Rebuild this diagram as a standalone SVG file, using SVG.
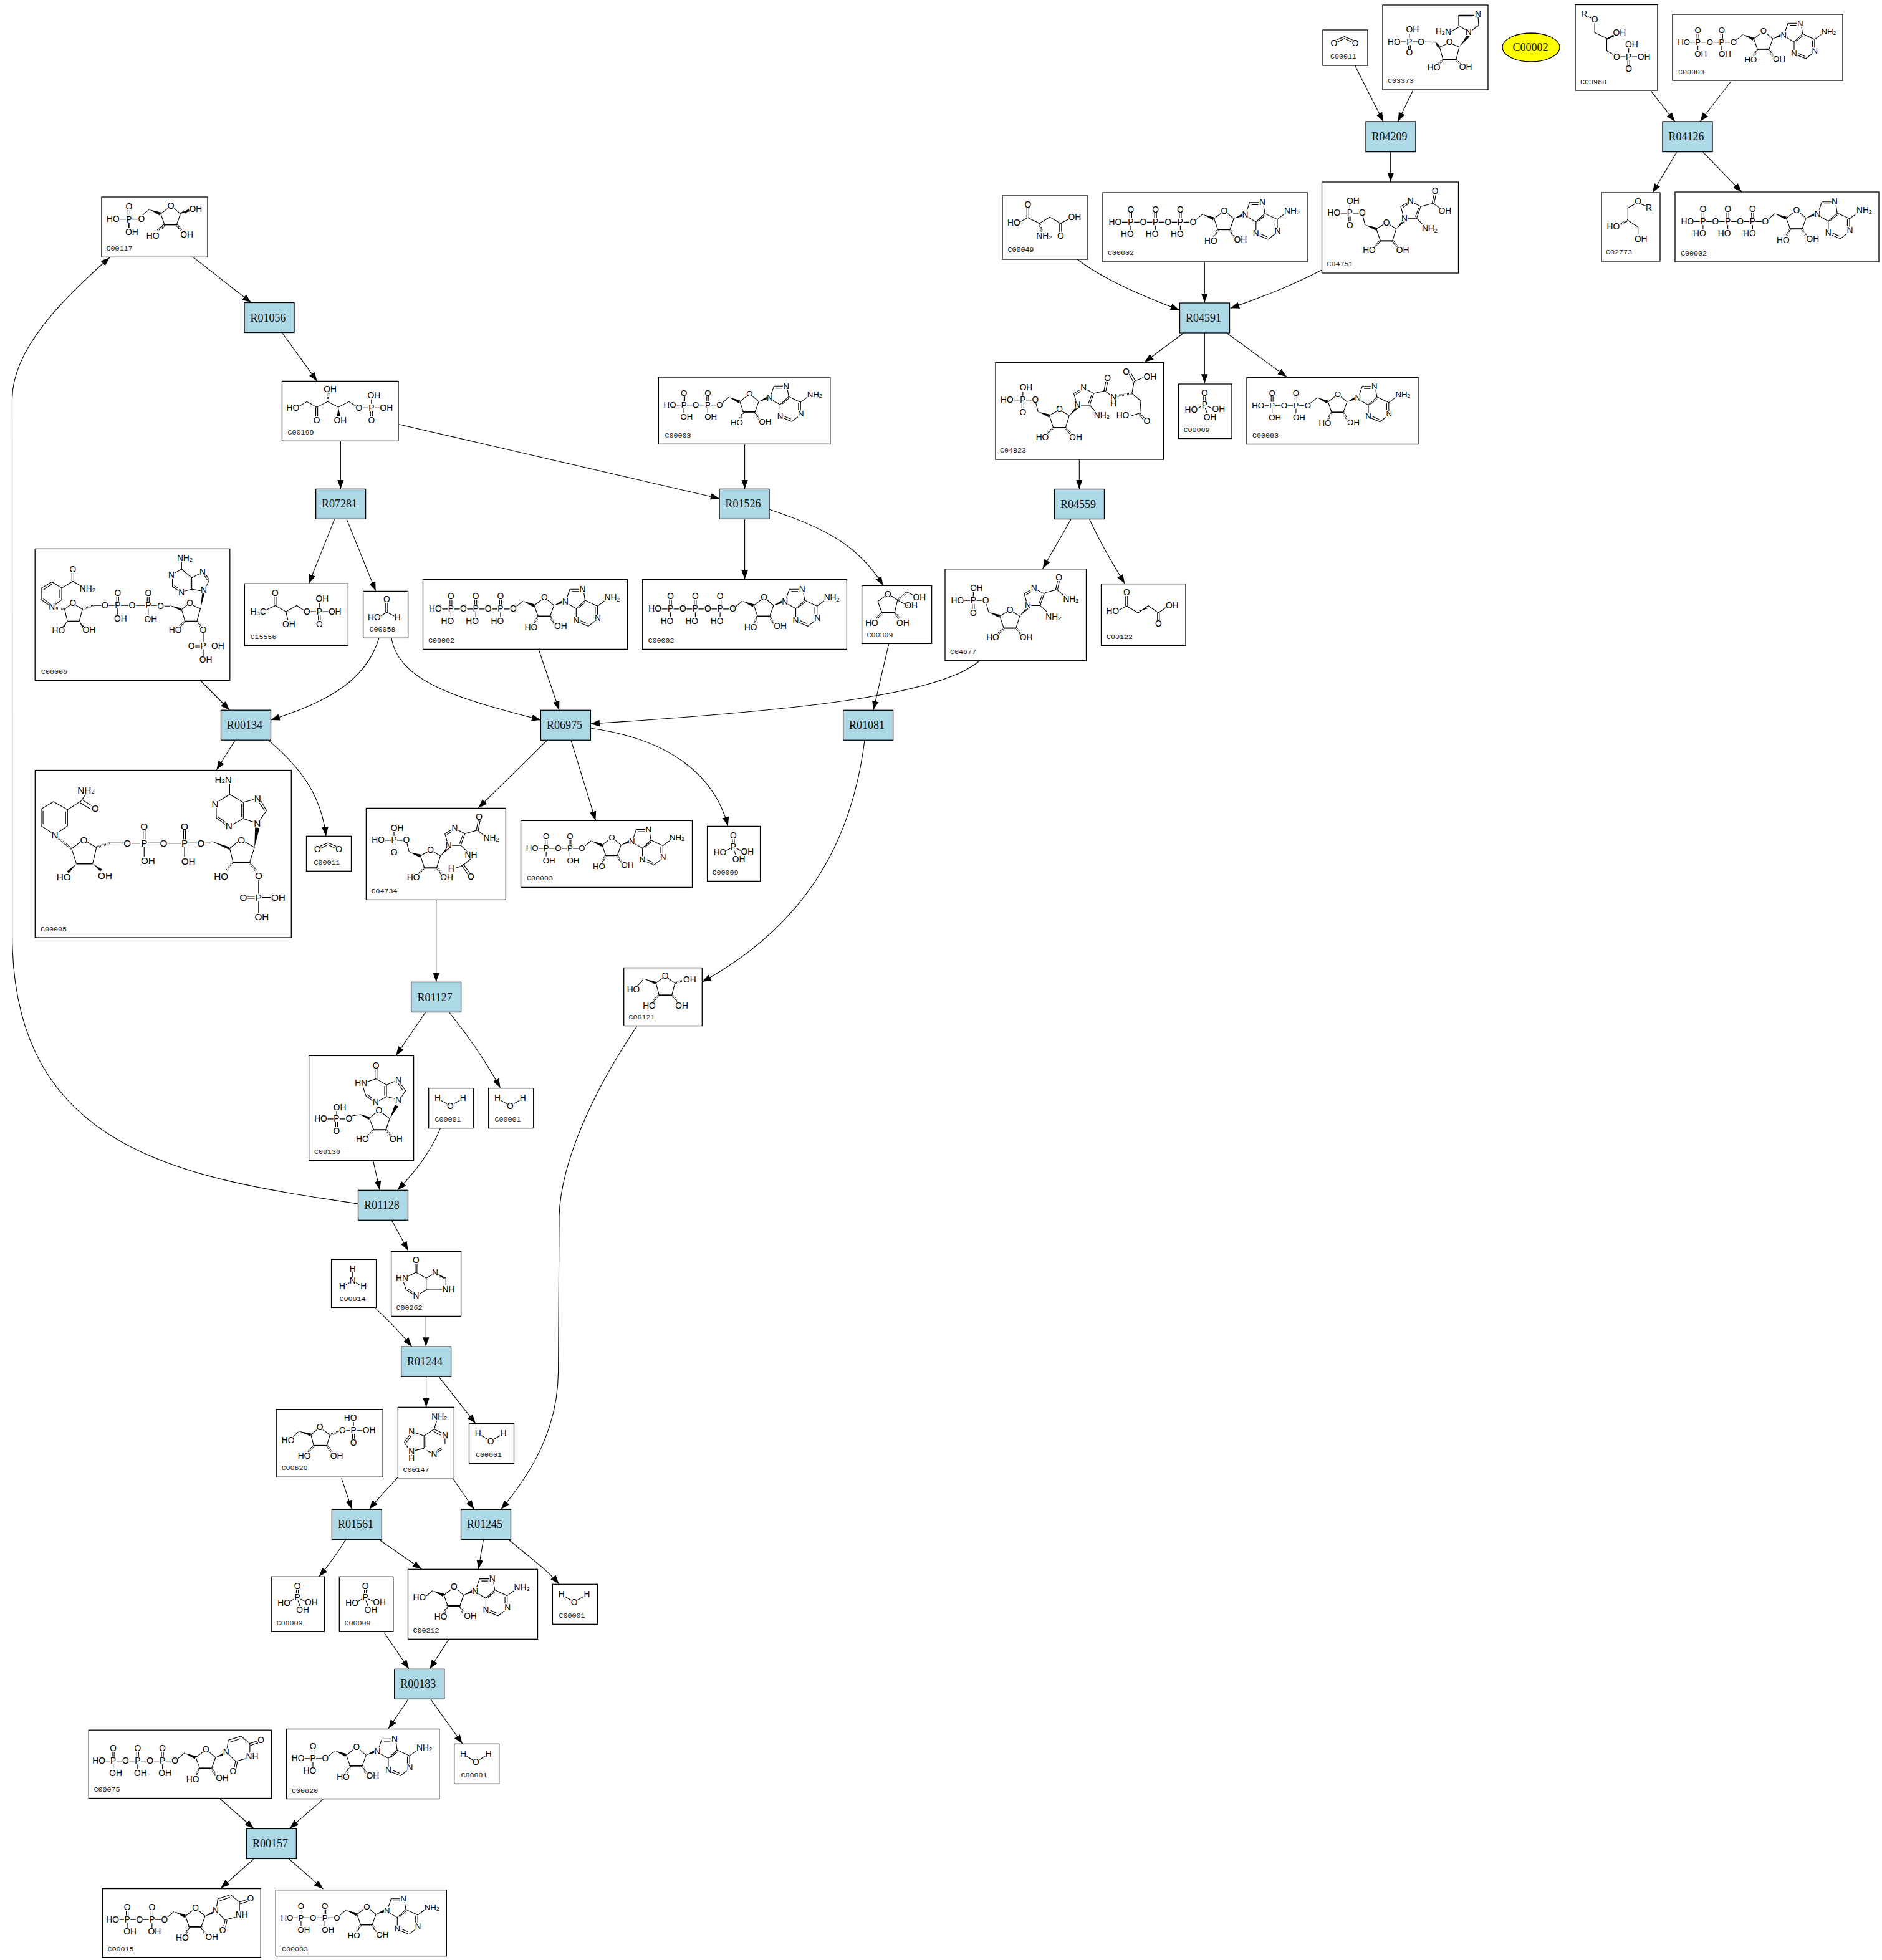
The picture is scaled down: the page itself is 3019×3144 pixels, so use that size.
<svg xmlns="http://www.w3.org/2000/svg" width="3019" height="3144" viewBox="0 0 3019 3144">
<style>
text{font-family:"Liberation Sans",Arial,sans-serif}
.bg{fill:#fff}
.b{fill:#fff;stroke:#000;stroke-width:1.3}
.r{fill:#add8e6;stroke:#000;stroke-width:1.3}
.l{font-family:"Liberation Serif","Times New Roman",serif;font-size:18px;text-anchor:middle;fill:#111}
.c{font-family:"Liberation Mono","Courier New",monospace;font-size:11.7px;fill:#111}
.m text{font-size:27px;text-anchor:middle;dominant-baseline:central;stroke:#fff;stroke-width:5px;paint-order:stroke;fill:#000}
.m .s{font-size:18px;stroke-width:2px}
.big text{font-size:30px}
.m path{fill:none;stroke:#000;stroke-width:2.2}
.m path.w{fill:#000;stroke:none}
.m path.t{stroke-width:4}
.m path.h{stroke-width:7;stroke-dasharray:1.6 2.6}
.e path{fill:none;stroke:#000;stroke-width:1.1}
</style>
<defs>
<marker id="a" markerUnits="userSpaceOnUse" markerWidth="16" markerHeight="12" refX="14.5" refY="6" orient="auto"><path d="M0,.7L14.5,6L0,11.3z" fill="#000"/></marker>
<g class="m">
<g id="rib"><path d="M9,-7L30,-25M66,-11L88,-28M108,-28L128,-11L116,23M78,23L66,-11"/><path class="t" d="M78,23H116"/><path class="w" d="M30,-25L67,-15L63,-6zM128,-11L155,-27L158,-19z"/><path class="h" d="M78,23L66,46M116,23L128,46"/><text x="98" y="-36">O</text><text x="56" y="58">HO</text><text x="149" y="55">OH</text></g>
<g id="ado"><use href="#rib"/><path d="M168,-33L178,-62H208M184,-55H205M222,-52L226,-27L198,-1L172,-16M205,-3L226,-21M198,-1V25M207,42L236,54L257,38M212,37L233,46M265,18V-9L226,-27M258,16V-6M265,-9L288,-26"/><text x="164" y="-23">N</text><text x="218" y="-62">N</text><text x="198" y="36">N</text><text x="266" y="28">N</text><text x="311" y="-35">NH<tspan class="s" dy="5">2</tspan></text></g>
<g id="urd"><use href="#rib"/><path d="M164,-38L168,-65L208,-78L236,-55M174,-59L206,-70M236,-55L260,-63M238,-49L262,-57M236,-55V-25M226,-8L191,1L170,-20M191,1L186,24M197,2L192,25"/><text x="161" y="-28">N</text><text x="271" y="-65">O</text><text x="243" y="-14">NH</text><text x="183" y="34">O</text></g>
<g id="pu"><path d="M-3,-29V-11M3,-29V-11M0,11V26"/><text>P</text><text y="-39">O</text></g>
<g id="atp"><use href="#ado" x="284" y="93"/><use href="#pu" x="88" y="93"/><use href="#pu" x="166" y="93"/><use href="#pu" x="244" y="93"/><path d="M56,93H78M98,93H117M137,93H156M176,93H195M215,93H234M254,93H274"/><text x="39" y="93">HO</text><text x="127" y="93">O</text><text x="205" y="93">O</text><text x="284" y="93">O</text><text x="77" y="131">HO</text><text x="155" y="131">HO</text><text x="234" y="131">HO</text></g>
<g id="adp"><use href="#ado" x="200" y="91"/><use href="#pu" x="83" y="91"/><use href="#pu" x="161" y="91"/><path d="M54,91H73M93,91H112M132,91H151M171,91H190"/><text x="37" y="91">HO</text><text x="122" y="91">O</text><text x="200" y="91">O</text><text x="92" y="130">OH</text><text x="171" y="130">OH</text></g>
<g id="aicp"><path d="M-30,0H-10M10,0H29M0,-10V-26M-3,11V28M3,11V28M41,10L48,37M83,49L106,36M124,36L146,49L134,87M96,87L83,49M168,7L160,-21L183,-34M167,-18L182,-28M200,-33L223,-21L210,16L182,16M217,-17L206,11"/><path class="t" d="M96,87H134"/><path class="w" d="M48,37L84,45L81,54zM146,49L166,22L173,27z"/><path class="h" d="M96,87L76,107M134,87L150,107"/><text x="-50">HO</text><text x="10" y="-39">OH</text><text>P</text><text x="39">O</text><text y="39">O</text><text x="115" y="30">O</text><text x="61" y="117">HO</text><text x="166" y="117">OH</text><text x="172" y="16">N</text><text x="191" y="-39">N</text></g>
<g id="h2o"><path d="M38,38L58,50M78,50L98,38"/><text x="28" y="32">H</text><text x="68" y="57">O</text><text x="108" y="31">H</text></g>
<g id="pi"><path d="M79,39V55M85,39V55M72,70L58,78M92,70L108,78M84,75L90,92"/><text x="82" y="29">O</text><text x="82" y="65">P</text><text x="40" y="82">HO</text><text x="126" y="80">OH</text><text x="99" y="105">OH</text></g>
<g id="co2"><path d="M42,32L68,21L94,32M45,38L68,27L91,38"/><text x="35" y="42">O</text><text x="102" y="42">O</text></g>
</g>
</defs>
<rect class="bg" width="3019" height="3144"/>
<g id="connectors" class="e">
<path marker-end="url(#a)" d="M2173.3,104.6L2219,195"/>
<path marker-end="url(#a)" d="M2267,144.3L2242.4,195"/>
<path marker-end="url(#a)" d="M2230.7,243.6V291.4"/>
<path marker-end="url(#a)" d="M2648.7,146.4L2686.8,195"/>
<path marker-end="url(#a)" d="M2776.4,131L2727,195"/>
<path marker-end="url(#a)" d="M2689.7,244.3L2651,309"/>
<path marker-end="url(#a)" d="M2732,244.3L2794,308"/>
<path marker-end="url(#a)" d="M1727.8,415.7C1765,445 1825,472 1892,497.3"/>
<path marker-end="url(#a)" d="M1932.3,420.3V485.6"/>
<path marker-end="url(#a)" d="M2120.6,433C2072,458 2025,477 1973.7,494.3"/>
<path marker-end="url(#a)" d="M1899,534L1836,581"/>
<path marker-end="url(#a)" d="M1932.3,534V614.7"/>
<path marker-end="url(#a)" d="M1967.6,534L2064,604.5"/>
<path marker-end="url(#a)" d="M1731.3,736.6V784"/>
<path marker-end="url(#a)" d="M1718,833L1672.7,912"/>
<path marker-end="url(#a)" d="M1747.7,833C1762,864 1782,900 1804.3,936"/>
<path marker-end="url(#a)" d="M1571.7,1059.5C1510,1115 1280,1140 947.4,1161"/>
<path marker-end="url(#a)" d="M864,1041.5L897,1139"/>
<path marker-end="url(#a)" d="M628,1023.5C640,1095 740,1122 867.4,1155"/>
<path marker-end="url(#a)" d="M608,1023.5C585,1100 510,1130 434.4,1155"/>
<path marker-end="url(#a)" d="M321.4,1091.5L368.3,1139"/>
<path marker-end="url(#a)" d="M377,1187.8L347.3,1235"/>
<path marker-end="url(#a)" d="M431,1187.8C475,1225 515,1270 523,1341"/>
<path marker-end="url(#a)" d="M309.7,412.4L403,485.5"/>
<path marker-end="url(#a)" d="M452.5,533.7L508.7,611.4"/>
<path marker-end="url(#a)" d="M546.4,707.5V784"/>
<path marker-end="url(#a)" d="M639.8,680.7L1154.3,799.7"/>
<path marker-end="url(#a)" d="M1194.6,712.4V784"/>
<path marker-end="url(#a)" d="M1194.6,832.6V929"/>
<path marker-end="url(#a)" d="M1234.3,817.3C1310,842 1375,870 1416.6,939"/>
<path marker-end="url(#a)" d="M1425.8,1032.7L1401,1139"/>
<path marker-end="url(#a)" d="M536.7,832.6L495.5,936"/>
<path marker-end="url(#a)" d="M556,832.6L602.7,948"/>
<path marker-end="url(#a)" d="M877.6,1187.5L767.3,1296"/>
<path marker-end="url(#a)" d="M916,1187.5L955.4,1316"/>
<path marker-end="url(#a)" d="M947,1168C1070,1185 1145,1240 1167.8,1325"/>
<path marker-end="url(#a)" d="M1387,1187.5C1368,1340 1300,1480 1126.3,1575"/>
<path marker-end="url(#a)" d="M699.7,1443.2V1575"/>
<path marker-end="url(#a)" d="M682.4,1624L635.3,1693"/>
<path marker-end="url(#a)" d="M720.7,1624C750,1660 775,1695 802.6,1745"/>
<path marker-end="url(#a)" d="M598.5,1861.4L609.2,1909"/>
<path marker-end="url(#a)" d="M706.6,1809.6C690,1850 665,1880 637.8,1909"/>
<path marker-end="url(#a)" d="M628.6,1957.7L654.7,2006"/>
<path marker-end="url(#a)" d="M602.4,2098.7C620,2115 640,2135 660.6,2160"/>
<path marker-end="url(#a)" d="M683.3,2111.4V2159.8"/>
<path marker-end="url(#a)" d="M683.6,2208.7V2257"/>
<path marker-end="url(#a)" d="M704.2,2208.7L762.8,2283.3"/>
<path marker-end="url(#a)" d="M1021.7,1646.3C955,1745 900,1860 897,1950L895.6,2200C895,2290 855,2360 803.7,2421"/>
<path marker-end="url(#a)" d="M727.2,2372.7L760.5,2421"/>
<path marker-end="url(#a)" d="M638,2370C620,2390 605,2405 592.5,2421"/>
<path marker-end="url(#a)" d="M547.7,2371L564.6,2421"/>
<path marker-end="url(#a)" d="M554.6,2470C540,2493 528,2510 511.8,2529"/>
<path marker-end="url(#a)" d="M608.6,2470L676.3,2517"/>
<path marker-end="url(#a)" d="M775.4,2470L767.4,2517"/>
<path marker-end="url(#a)" d="M816.4,2470C845,2495 875,2515 896.7,2541"/>
<path marker-end="url(#a)" d="M616.3,2619L656,2677"/>
<path marker-end="url(#a)" d="M720,2629.5L689.3,2677"/>
<path marker-end="url(#a)" d="M655,2725.6L623,2773"/>
<path marker-end="url(#a)" d="M690.8,2725.6L741.8,2797"/>
<path marker-end="url(#a)" d="M352.6,2885L407,2933"/>
<path marker-end="url(#a)" d="M518.4,2886L464.8,2933"/>
<path marker-end="url(#a)" d="M407,2982L354,3029"/>
<path marker-end="url(#a)" d="M463.8,2982L518.4,3030"/>
<path marker-end="url(#a)" d="M574.6,1931C300,1890 20,1850 19.6,1500L19.5,640C20,560 100,480 176,413"/>
</g>

<g id="C00011-1"><rect class="b" x="2122" y="48" width="72" height="57"/><use href="#co2" transform="translate(2122,48) scale(.51)"/><text class="c" x="2134" y="94">C00011</text></g>
<g id="C03373"><rect class="b" x="2218" y="8" width="169" height="136"/><g class="m" transform="translate(2218,8) scale(.51)"><path d="M84,106V90M56,116H74M94,116H111M81,126V142M87,126V142M130,116L164,117M179,132L201,123M219,123L241,132L231,172M190,172L179,132M239,32H288M239,38H284M239,32V64M239,64L260,78M300,39L302,64L280,80M239,70L214,84"/><path class="t" d="M190,172H231"/><path class="w" d="M164,114L180,128L174,136zM241,132L265,95L274,99z"/><path class="h" d="M190,172L174,188M231,172L248,188"/><text x="94" y="78">OH</text><text x="36" y="116">HO</text><text x="84" y="116">P</text><text x="121" y="116">O</text><text x="84" y="150">O</text><text x="210" y="117">O</text><text x="161" y="197">HO</text><text x="261" y="196">OH</text><text x="270" y="85">N</text><text x="300" y="29">N</text><text x="191" y="84">H<tspan class="s" dy="5">2</tspan><tspan dy="-5">N</tspan></text></g><text class="c" x="2226" y="133">C03373</text></g>
<g id="C00002-ref"><ellipse cx="2456" cy="76" rx="46" ry="23" fill="#ff0" stroke="#000" stroke-width="1.3"/><text class="l" x="2455" y="82">C00002</text></g>
<g id="C03968"><rect class="b" x="2527" y="7.5" width="132" height="137.5"/><g class="m" transform="translate(2527,7.5) scale(.51)"><path d="M36,36L50,42M61,58V88L99,106V145L120,157M140,164H158M178,164H204M168,154V136M165,174V192M171,174V192"/><path class="w" d="M97,108L126,90L129,96L101,110z"/><text x="28" y="29">R</text><text x="61" y="48">O</text><text x="139" y="88">OH</text><text x="130" y="164">O</text><text x="168" y="164">P</text><text x="177" y="125">OH</text><text x="216" y="164">OH</text><text x="168" y="202">O</text></g><text class="c" x="2535" y="135">C03968</text></g>
<g id="C00003-1"><rect class="b" x="2683" y="23" width="273" height="106"/><use href="#adp" transform="translate(2683,23) scale(.49)"/><text class="c" x="2692" y="119">C00003</text></g>
<g id="R04209"><rect class="r" x="2191" y="195" width="80" height="48.6"/><text class="l" x="2229" y="225">R04209</text></g>
<g id="R04126"><rect class="r" x="2667" y="195" width="80" height="48.6"/><text class="l" x="2705" y="225">R04126</text></g>
<g id="C04751"><rect class="b" x="2120.5" y="292" width="219" height="146"/><g class="m" transform="translate(2120.5,292) scale(.51) translate(88,98)"><use href="#aicp"/><path d="M223,-21L262,-31M259,-31L265,-60M265,-31L271,-60M262,-31L285,-14M210,16L232,38"/><text x="268" y="-70">O</text><text x="299" y="-6">OH</text><text x="251" y="49">NH<tspan class="s" dy="5">2</tspan></text></g><text class="c" x="2128.5" y="427">C04751</text></g>
<g id="C02773"><rect class="b" x="2569" y="309" width="94" height="110"/><g class="m" transform="translate(2569,309) scale(.51)"><path d="M105,36L83,48V87L115,108V132M124,36L140,42"/><path class="h" d="M83,87L60,100"/><text x="115" y="29">O</text><text x="149" y="48">R</text><text x="37" y="107">HO</text><text x="124" y="146">OH</text></g><text class="c" x="2576" y="408">C02773</text></g>
<g id="C00002-2"><rect class="b" x="2687" y="308" width="327" height="112"/><use href="#atp" transform="translate(2687,308) scale(.51)"/><text class="c" x="2696" y="410">C00002</text></g>
<g id="C00049"><rect class="b" x="1608" y="314" width="137" height="102"/><g class="m" transform="translate(1608,314) scale(.51)"><path d="M77,39V69M83,39V69M80,69L56,82M80,69L116,87L149,67L183,87L212,72M180,87V116M186,87V116"/><path class="h" d="M116,87L126,115"/><text x="80" y="29">O</text><text x="36" y="86">HO</text><text x="131" y="127">NH<tspan class="s" dy="5">2</tspan></text><text x="227" y="67">OH</text><text x="183" y="127">O</text></g><text class="c" x="1616.5" y="404">C00049</text></g>
<g id="C00002-1"><rect class="b" x="1769" y="309" width="328" height="111"/><use href="#atp" transform="translate(1769,309) scale(.51)"/><text class="c" x="1777" y="409">C00002</text></g>
<g id="R04591"><rect class="r" x="1892.5" y="486" width="80" height="48"/><text class="l" x="1930.5" y="516">R04591</text></g>
<g id="C04823"><rect class="b" x="1597" y="581.5" width="269.5" height="155.5"/><g class="m" transform="translate(1597,581.5) scale(.51) translate(86,118)"><use href="#aicp"/><path d="M223,-21L258,-29M255,-29L261,-59M261,-29L267,-59M258,-29L276,-15M343,-21L350,-59M346,-60L333,-83M352,-63L339,-86M350,-59L382,-72M343,-21L371,3L368,41L340,50M368,41L385,60M365,45L381,64"/><path class="h" d="M295,-12L343,-21"/><text x="266" y="-69">O</text><text x="285" y="-9">N</text><text x="285" y="11">H</text><text x="325" y="-89">O</text><text x="400" y="-72">OH</text><text x="314" y="49">HO</text><text x="390" y="66">O</text><text x="248" y="49">NH<tspan class="s" dy="5">2</tspan></text><path d="M210,16L228,36"/></g><text class="c" x="1604" y="726">C04823</text></g>
<g id="C00009-1"><rect class="b" x="1890.5" y="616" width="85.5" height="87.5"/><use href="#pi" transform="translate(1890.5,616) scale(.51)"/><text class="c" x="1898.5" y="693">C00009</text></g>
<g id="C00003-2"><rect class="b" x="2000" y="605.5" width="275" height="107"/><use href="#adp" transform="translate(2000,605.5) scale(.49)"/><text class="c" x="2009" y="702">C00003</text></g>
<g id="R04559"><rect class="r" x="1691.5" y="784.5" width="80" height="48"/><text class="l" x="1729.5" y="814.5">R04559</text></g>
<g id="C04677"><rect class="b" x="1516" y="912.7" width="226.5" height="147"/><g class="m" transform="translate(1518,912.7) scale(.51) translate(85,99)"><use href="#aicp"/><path d="M225,-24L262,-34M259,-34L265,-62M265,-34L271,-62M262,-34L285,-16M210,16L232,36"/><text x="269" y="-71">O</text><text x="307" y="-4">NH<tspan class="s" dy="5">2</tspan></text><text x="252" y="51">NH<tspan class="s" dy="5">2</tspan></text></g><text class="c" x="1524" y="1049">C04677</text></g>
<g id="C00122"><rect class="b" x="1766.5" y="936.6" width="135.5" height="99"/><g class="m" transform="translate(1766.5,936.6) scale(.51)"><path d="M77,38V70M83,38V70M80,70L56,82M80,70L116,91L148,69L180,91L207,72M120,84L147,76M177,91V116M183,91V116"/><text x="80" y="28">O</text><text x="36" y="87">HO</text><text x="223" y="68">OH</text><text x="180" y="126">O</text></g><text class="c" x="1775" y="1025">C00122</text></g>
<g id="C00117"><rect class="b" x="163" y="316" width="170" height="96.4"/><g class="m" transform="translate(163,316) scale(.51)"><use href="#pu" transform="translate(86,70) scale(1,1.07)"/><path d="M53,70H76M96,70H115M86,80V98"/><use href="#rib" x="120" y="64"/><rect x="160" y="100" width="70" height="40" fill="#fff"/><rect x="240" y="100" width="60" height="40" fill="#fff"/><path class="h" d="M196,87L176,105M236,87L252,105"/><path d="M248,53L258,44L262,52L272,42"/><text x="36" y="70">HO</text><text x="95" y="111">OH</text><text x="125" y="70">O</text><text x="161" y="122">HO</text><text x="268" y="119">OH</text><text x="296" y="39">OH</text></g><text class="c" x="170.5" y="401.5">C00117</text></g>
<g id="R01056"><rect class="r" x="392" y="485.5" width="80" height="48"/><text class="l" x="430" y="515.5">R01056</text></g>
<g id="C00199"><rect class="b" x="452.5" y="611.4" width="186.5" height="96"/><g class="m" transform="translate(452.5,611.4) scale(.51)"><path d="M48,82L78,64.5L109,82L143,64.5L177,82L210,64.5L232,78M106,82V112M112,82V112M252,84H271M281,74V58M278,94V114M284,94V114M291,84H310"/><path class="h" d="M143,64.5L146,38"/><path class="w" d="M177,82L173,110L183,110z"/><text x="34" y="84">HO</text><text x="109" y="124">O</text><text x="151" y="26">OH</text><text x="183" y="124">OH</text><text x="242" y="84">O</text><text x="281" y="84">P</text><text x="289" y="46">OH</text><text x="328" y="84">OH</text><text x="281" y="124">O</text></g><text class="c" x="461.5" y="697">C00199</text></g>
<g id="R07281"><rect class="r" x="506.6" y="784.4" width="80" height="48"/><text class="l" x="544.6" y="814.4">R07281</text></g>
<g id="C00003-3"><rect class="b" x="1056.4" y="605" width="275.4" height="107.4"/><use href="#adp" transform="translate(1056.4,605) scale(.49)"/><text class="c" x="1066.5" y="702">C00003</text></g>
<g id="R01526"><rect class="r" x="1154" y="784.4" width="80" height="48"/><text class="l" x="1192" y="814.4">R01526</text></g>
<g id="C00002-3"><rect class="b" x="1030.7" y="929.4" width="327.7" height="112"/><use href="#atp" transform="translate(1030.7,929.4) scale(.51)"/><text class="c" x="1039.5" y="1031">C00002</text></g>
<g id="C00002-4"><rect class="b" x="678.5" y="929.4" width="328" height="112"/><use href="#atp" transform="translate(678.5,929.4) scale(.51)"/><text class="c" x="687" y="1031">C00002</text></g>
<g id="C00309"><rect class="b" x="1382.6" y="939.4" width="112" height="93"/><g class="m" transform="translate(1382.6,939.4) scale(.51)"><path d="M73,33L50,50L63,85M103,85L112,46L92,32M112,46L145,63M141,20L165,32"/><path class="t" d="M63,85H103"/><path class="h" d="M112,46L141,20M63,85L46,104M103,85L118,104"/><text x="82" y="27">O</text><text x="181" y="38">OH</text><text x="155" y="63">OH</text><text x="31" y="117">HO</text><text x="129" y="117">OH</text></g><text class="c" x="1390.5" y="1022">C00309</text></g>
<g id="C15556"><rect class="b" x="392.4" y="936.3" width="166" height="99.3"/><g class="m" transform="translate(392.4,936.3) scale(.51)"><path d="M64,84L97,69L130,88L164,69L187,84M93,39V69M99,39V69M130,88L136,114M206,88H225M235,78V60M232,98V116M238,98V116M245,88H265"/><text x="43" y="88">H<tspan class="s" dy="5">3</tspan><tspan dy="-5">C</tspan></text><text x="96" y="29">O</text><text x="139" y="127">OH</text><text x="196" y="88">O</text><text x="235" y="88">P</text><text x="244" y="48">OH</text><text x="284" y="88">OH</text><text x="235" y="127">O</text></g><text class="c" x="401.5" y="1025">C15556</text></g>
<g id="C00058"><rect class="b" x="582.6" y="948.4" width="72" height="75"/><g class="m" transform="translate(582.6,948.4) scale(.51)"><path d="M71,36V66M77,36V66M74,66L52,80M74,66L98,78"/><text x="74" y="26">O</text><text x="35" y="82">HO</text><text x="108" y="82">H</text></g><text class="c" x="592.5" y="1013">C00058</text></g>
<g id="C00006"><rect class="b" x="56.2" y="880.4" width="312.6" height="211"/><g class="m" transform="translate(56.2,880.4) scale(.51)"><path d="M116,102V74M122,102V74M119,102L150,120M119,102L84,123V160M78,128V156M84,160L63,176M44,177L21,161V123L53,104L84,123M27,128L53,111M26,157L44,170M93,190L110,177M128,177L149,190L139,228M102,228L93,190M183,178H210M230,178H250M270,178H295M315,178H346M366,178H385M405,180H425M257,149V168M263,149V168M260,188V208M353,149V168M359,149V168M356,188V208M461,191L478,177M496,177L520,189L509,228M472,228L461,191M538,120L548,98L537,80M519,77L493,91V127L522,132M487,95V123M493,127L470,133M452,132L432,119V92M437,77L461,64L493,91M461,64V40M542,98L533,84M529,266V296M529,316V338M502,303H519M502,309H519M539,306H555M438,116L452,125"/><path class="t" d="M102,228H139M472,228H509"/><path class="h" d="M62,186L93,190M149,190L183,178M472,228L450,248M509,228L523,245"/><path class="w" d="M102,226L84,248L90,252zM139,228L155,246L150,250zM425,178L461,187L459,195zM520,189L526,138L534,139z"/><text x="119" y="65">O</text><text x="165" y="126">NH<tspan class="s" dy="5">2</tspan></text><text x="53" y="183">N</text><text x="119" y="171">O</text><text x="74" y="257">HO</text><text x="170" y="255">OH</text><text x="220" y="178">O</text><text x="260" y="178">P</text><text x="260" y="139">O</text><text x="269" y="219">OH</text><text x="305" y="178">O</text><text x="356" y="178">P</text><text x="356" y="139">O</text><text x="364" y="221">OH</text><text x="395" y="180">O</text><text x="487" y="170">O</text><text x="441" y="255">HO</text><text x="529" y="255">O</text><text x="529" y="306">P</text><text x="492" y="306">O</text><text x="575" y="306">OH</text><text x="537" y="349">OH</text><text x="531" y="129">N</text><text x="527" y="72">N</text><text x="461" y="138">N</text><text x="429" y="83">N</text><text x="471" y="30">NH<tspan class="s" dy="5">2</tspan></text></g><text class="c" x="66" y="1081">C00006</text></g>
<g id="R00134"><rect class="r" x="354.5" y="1139.2" width="80" height="48"/><text class="l" x="392.5" y="1169.2">R00134</text></g>
<g id="R06975"><rect class="r" x="867.4" y="1139.3" width="80" height="48"/><text class="l" x="905.4" y="1169.3">R06975</text></g>
<g id="R01081"><rect class="r" x="1352.6" y="1139.3" width="80" height="48"/><text class="l" x="1390.6" y="1169.3">R01081</text></g>
<g id="C00005"><rect class="b" x="56.3" y="1235.5" width="411" height="268.5"/><g class="m big" transform="translate(56.3,1235.5) scale(.51)"><path d="M141,102L174,122M147,92L179,112M144,97L160,75M144,97L102,124V175M96,130V170M102,175L72,196M52,196L19,175V122L58,99L102,124M25,128V170M115,247L142,226M164,226L193,243L181,294M130,294L115,247M235,229H278M302,230H331M355,229H392M416,230H458M482,229H510M534,229H552M340,187V217M346,187V217M343,241V272M467,187V217M473,187V217M470,241V272M612,246L637,226M661,226L690,243L675,290M623,290L612,246M703,344V388M703,412V448M667,397H691M667,403H691M715,400H745M708,155L728,127L710,96M722,127L706,103M688,92L655,101V152L687,163M649,105V148M655,152L622,170M598,170L570,150V118M576,147L600,165M578,97L612,76L655,101M612,76V42"/><path class="t" d="M130,294H181M623,290H675"/><path class="h" d="M70,212L115,247M193,243L235,229M623,290L600,315M675,290L695,316"/><path class="w" d="M130,294L100,318L106,324zM181,294L205,318L211,312zM552,222L612,242L610,250zM690,243L692,180L706,182z"/><text x="189" y="120">O</text><text x="160" y="62">NH<tspan class="s" dy="5">2</tspan></text><text x="62" y="203">N</text><text x="153" y="219">O</text><text x="90" y="336">HO</text><text x="220" y="332">OH</text><text x="290" y="230">O</text><text x="343" y="229">P</text><text x="343" y="176">O</text><text x="355" y="285">OH</text><text x="404" y="230">O</text><text x="470" y="229">P</text><text x="470" y="176">O</text><text x="482" y="286">OH</text><text x="522" y="230">O</text><text x="649" y="219">O</text><text x="585" y="334">HO</text><text x="703" y="332">O</text><text x="703" y="400">P</text><text x="655" y="400">O</text><text x="765" y="400">OH</text><text x="713" y="460">OH</text><text x="699" y="167">N</text><text x="700" y="88">N</text><text x="610" y="175">N</text><text x="566" y="105">N</text><text x="592" y="29">H<tspan class="s" dy="5">2</tspan><tspan dy="-5">N</tspan></text></g><text class="c" x="65" y="1494">C00005</text></g>
<g id="C00011-2"><rect class="b" x="491.5" y="1341.3" width="72" height="56"/><use href="#co2" transform="translate(491.5,1341.3) scale(.51)"/><text class="c" x="503.5" y="1386.5">C00011</text></g>
<g id="C04734"><rect class="b" x="587.4" y="1296.4" width="224" height="147"/><g class="m" transform="translate(587.4,1296.4) scale(.51) translate(87.5,101)"><use href="#aicp"/><path d="M223,-21L262,-32M259,-32L265,-63M265,-32L271,-63M262,-32L285,-14M210,16L232,37M242,58L215,80M212,78L232,106M218,75L238,103M215,80L192,88"/><text x="268" y="-73">O</text><text x="306" y="-6">NH<tspan class="s" dy="5">2</tspan></text><text x="242" y="47">NH</text><text x="180" y="89">H</text><text x="242" y="114">O</text></g><text class="c" x="595.5" y="1433">C04734</text></g>
<g id="C00003-4"><rect class="b" x="835.5" y="1316.4" width="275" height="107"/><use href="#adp" transform="translate(835.5,1316.4) scale(.49)"/><text class="c" x="845" y="1412">C00003</text></g>
<g id="C00009-2"><rect class="b" x="1134.6" y="1325.4" width="85" height="88"/><use href="#pi" transform="translate(1134.6,1325.4) scale(.51)"/><text class="c" x="1142.5" y="1403">C00009</text></g>
<g id="R01127"><rect class="r" x="659.6" y="1575.5" width="80" height="48"/><text class="l" x="697.6" y="1605.5">R01127</text></g>
<g id="C00121"><rect class="b" x="1000.7" y="1552.5" width="125.6" height="93"/><g class="m" transform="translate(1000.7,1552.5) scale(.51)"><path d="M40,60L61,37M101,48L121,33M139,33L161,48L151,86M111,86L101,48"/><path class="t" d="M111,86H151"/><path class="w" d="M61,34L102,44L99,52z"/><path class="h" d="M111,86L92,106M151,86L168,106M161,48L188,40"/><text x="30" y="69">HO</text><text x="130" y="25">O</text><text x="80" y="119">HO</text><text x="182" y="119">OH</text><text x="207" y="38">OH</text></g><text class="c" x="1008.5" y="1635">C00121</text></g>
<g id="C00130"><rect class="b" x="495.6" y="1693.4" width="168" height="168"/><g class="m" transform="translate(495.6,1693.4) scale(.51)"><path d="M208,42V73M214,42V73M211,73L178,84M170,98L179,126L200,142M184,122L198,134M220,142L244,129V92L211,73M238,125V96M244,92L270,81M287,87L304,110L290,131M281,88L296,110M244,129L270,135M87,189V173M57,199H77M97,199H116M84,209V227M90,209V227M133,190L157,186M190,197L211,179M229,179L254,198L242,233M204,233L190,197"/><path class="t" d="M204,233H242"/><path class="w" d="M254,198L270,155L282,159zM157,183L191,193L188,201z"/><path class="h" d="M204,233L183,252M242,233L258,252"/><text x="211" y="31">O</text><text x="164" y="87">HN</text><text x="210" y="147">N</text><text x="281" y="77">N</text><text x="281" y="139">N</text><text x="97" y="162">OH</text><text x="37" y="199">HO</text><text x="87" y="199">P</text><text x="126" y="199">O</text><text x="87" y="238">O</text><text x="220" y="172">O</text><text x="168" y="262">HO</text><text x="274" y="262">OH</text></g><text class="c" x="504" y="1851">C00130</text></g>
<g id="C00001-1"><rect class="b" x="687.7" y="1745.6" width="72" height="64"/><use href="#h2o" transform="translate(687.7,1745.6) scale(.51)"/><text class="c" x="697.5" y="1799">C00001</text></g>
<g id="C00001-2"><rect class="b" x="783.7" y="1745.6" width="72" height="64"/><use href="#h2o" transform="translate(783.7,1745.6) scale(.51)"/><text class="c" x="793.5" y="1799">C00001</text></g>
<g id="R01128"><rect class="r" x="574.5" y="1909.3" width="80" height="48"/><text class="l" x="612.5" y="1939.3">R01128</text></g>
<g id="C00014"><rect class="b" x="531.6" y="2020.4" width="72" height="77"/><g class="m" transform="translate(531.6,2020.4) scale(.51)"><path d="M67,38V57M58,72L42,82M76,72L92,82"/><text x="67" y="29">H</text><text x="67" y="67">N</text><text x="34" y="85">H</text><text x="101" y="85">H</text></g><text class="c" x="544.5" y="2087">C00014</text></g>
<g id="C00262"><rect class="b" x="627.6" y="2007.4" width="112" height="104"/><g class="m" transform="translate(627.6,2007.4) scale(.51)"><path d="M75,38V66M81,38V66M78,66L48,80M38,94L47,121L68,134M52,117L66,128M88,134L110,121V84L78,66M110,84L130,72M146,72L172,84V106M152,76L168,86M110,121H160"/><text x="78" y="28">O</text><text x="34" y="84">HN</text><text x="78" y="140">N</text><text x="138" y="66">N</text><text x="180" y="119">NH</text></g><text class="c" x="635.5" y="2101">C00262</text></g>
<g id="R01244"><rect class="r" x="643.6" y="2160.2" width="80" height="48"/><text class="l" x="681.6" y="2190.2">R01244</text></g>
<g id="C00620"><rect class="b" x="443.2" y="2260.7" width="171" height="108.6"/><g class="m" transform="translate(443.2,2260.7) scale(.51)"><path d="M50,90L69,71M109,80L128,64M146,64L169,80L159,114M118,114L109,80M218,67H233M253,67H272M243,57V40M240,77V95M246,77V95"/><path class="t" d="M118,114H159"/><path class="w" d="M69,68L110,76L107,84z"/><path class="h" d="M118,114L100,134M159,114L175,134M169,80L198,70"/><text x="37" y="98">HO</text><text x="137" y="56">O</text><text x="88" y="146">HO</text><text x="190" y="146">OH</text><text x="208" y="67">O</text><text x="243" y="67">P</text><text x="233" y="28">HO</text><text x="292" y="67">OH</text><text x="243" y="105">O</text></g><text class="c" x="451.5" y="2358">C00620</text></g>
<g id="C00147"><rect class="b" x="638.4" y="2257.3" width="90" height="115"/><g class="m" transform="translate(638.4,2257.3) scale(.51)"><path d="M114,69L122,42M114,69L140,82M112,76L134,88M148,98V116M138,133L114,147L90,136M120,138L138,127M82,129V90L114,69M88,125V94M82,90L53,80M37,87L20,110L33,130M42,90L27,110M82,129L54,136M43,150V152"/><text x="130" y="30">NH<tspan class="s" dy="5">2</tspan></text><text x="148" y="88">N</text><text x="114" y="147">N</text><text x="43" y="77">N</text><text x="43" y="139">N</text><text x="43" y="161">H</text></g><text class="c" x="646.5" y="2361">C00147</text></g>
<g id="C00001-3"><rect class="b" x="752.5" y="2283.3" width="72" height="64"/><use href="#h2o" transform="translate(752.5,2283.3) scale(.51)"/><text class="c" x="763" y="2337">C00001</text></g>
<g id="R01561"><rect class="r" x="532.4" y="2421.3" width="80" height="48"/><text class="l" x="570.4" y="2451.3">R01561</text></g>
<g id="R01245"><rect class="r" x="739.5" y="2421.3" width="80" height="48"/><text class="l" x="777.5" y="2451.3">R01245</text></g>
<g id="C00009-3"><rect class="b" x="435.2" y="2529.3" width="85.4" height="88"/><use href="#pi" transform="translate(435.2,2529.3) scale(.51)"/><text class="c" x="443.5" y="2607">C00009</text></g>
<g id="C00009-4"><rect class="b" x="544.3" y="2529.3" width="86.5" height="88"/><use href="#pi" transform="translate(544.3,2529.3) scale(.51)"/><text class="c" x="552.5" y="2607">C00009</text></g>
<g id="C00212"><rect class="b" x="654.5" y="2517.3" width="208" height="112"/><g class="m" transform="translate(654.5,2517.3) scale(.51)"><use href="#ado" x="47" y="92"/><text x="36" y="89">HO</text></g><text class="c" x="662.5" y="2619">C00212</text></g>
<g id="C00001-4"><rect class="b" x="886.4" y="2541.3" width="72" height="64"/><use href="#h2o" transform="translate(886.4,2541.3) scale(.51)"/><text class="c" x="896.5" y="2595">C00001</text></g>
<g id="R00183"><rect class="r" x="632.7" y="2677.4" width="80" height="48"/><text class="l" x="670.7" y="2707.4">R00183</text></g>
<g id="C00075"><rect class="b" x="142.3" y="2775.2" width="293.4" height="109.3"/><g class="m" transform="translate(142.3,2775.2) scale(.51)"><use href="#urd" x="271" y="97"/><use href="#pu" x="77" y="97"/><use href="#pu" x="154" y="97"/><use href="#pu" x="232" y="97"/><path d="M48,97H67M87,97H106M126,97H144M164,97H183M203,97H222M242,97H261"/><text x="32" y="97">HO</text><text x="116" y="97">O</text><text x="193" y="97">O</text><text x="271" y="97">O</text><text x="85" y="136">OH</text><text x="163" y="136">OH</text><text x="240" y="136">OH</text></g><text class="c" x="150.5" y="2874">C00075</text></g>
<g id="C00020"><rect class="b" x="459.7" y="2773.5" width="245" height="112"/><g class="m" transform="translate(459.7,2773.5) scale(.51)"><use href="#ado" x="122" y="93"/><use href="#pu" x="83" y="93"/><path d="M53,93H73M93,93H112"/><text x="36" y="93">HO</text><text x="122" y="93">O</text><text x="73" y="131">HO</text></g><text class="c" x="468" y="2875.5">C00020</text></g>
<g id="C00001-5"><rect class="b" x="728.6" y="2797.4" width="72" height="64"/><use href="#h2o" transform="translate(728.6,2797.4) scale(.51)"/><text class="c" x="739.5" y="2851">C00001</text></g>
<g id="R00157"><rect class="r" x="395.4" y="2933.4" width="80" height="48"/><text class="l" x="433.4" y="2963.4">R00157</text></g>
<g id="C00015"><rect class="b" x="164.3" y="3029.6" width="254" height="110"/><g class="m" transform="translate(164.3,3029.6) scale(.51)"><use href="#urd" x="195" y="97"/><use href="#pu" x="78" y="97"/><use href="#pu" x="156" y="97"/><path d="M48,97H68M88,97H107M127,97H146M166,97H185"/><text x="32" y="97">HO</text><text x="117" y="97">O</text><text x="195" y="97">O</text><text x="87" y="135">OH</text><text x="164" y="135">OH</text></g><text class="c" x="172.5" y="3129.5">C00015</text></g>
<g id="C00003-5"><rect class="b" x="442.3" y="3031.6" width="274" height="106"/><use href="#adp" transform="translate(442.3,3031.6) scale(.49)"/><text class="c" x="452" y="3129.5">C00003</text></g>
</svg>
